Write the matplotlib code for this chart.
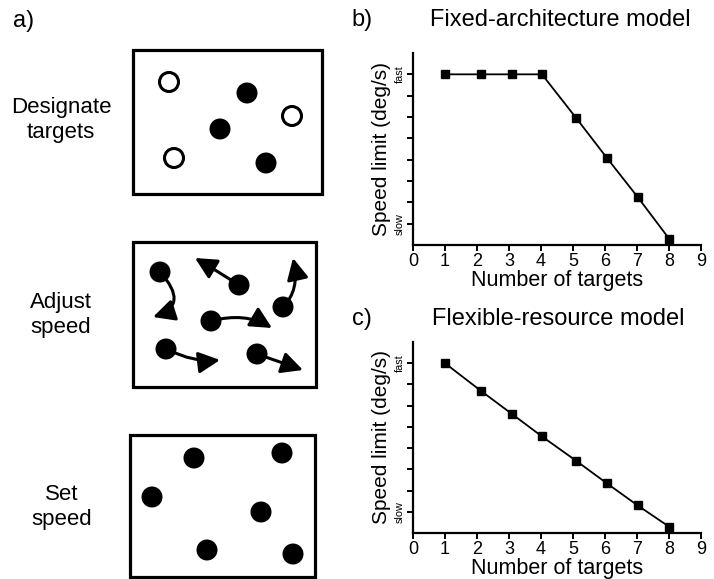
import matplotlib
matplotlib.use("Agg")
import matplotlib.pyplot as plt
from matplotlib.patches import Rectangle, Circle, FancyArrowPatch
from matplotlib.path import Path

plt.rcParams['font.family'] = ['Liberation Sans', 'DejaVu Sans']

# ---- data for panels b and c ----
n_targets_b = [1, 2.12, 3.1, 4.03, 5.1, 6.05, 7.02, 8]
speed_b = [8, 8, 8, 8, 5.95, 4.1, 2.25, 0.3]
n_targets_c = [1, 2.12, 3.1, 4.03, 5.1, 6.05, 7.02, 8]
speed_c = [8, 6.7, 5.6, 4.55, 3.4, 2.35, 1.3, 0.3]
x_ticks = [0, 1, 2, 3, 4, 5, 6, 7, 8, 9]
y_ticks = [1, 2, 3, 4, 5, 6, 7, 8]
y_tick_labels = ['slow', '', '', '', '', '', '', 'fast']

# ---- schematic layout for panel a (pixel units) ----
boxes = [(133, 50, 189, 144), (133, 242, 183, 145), (130, 435, 185, 142)]
box_labels = ['Designate\ntargets', 'Adjust\nspeed', 'Set\nspeed']
label_pos = [(61, 120), (61, 315), (62, 507)]
open_circles = [(169, 82), (292, 116), (174, 158)]
filled1 = [(247, 93), (220, 129), (266, 163)]
filled2 = [(160, 272), (239, 285), (283, 307), (211, 321), (166, 349), (257, 354)]
arrow_ctrl = [(190, 305), (217, 271), (300, 290), (245, 312), (195, 363), (280, 362)]
arrow_tip = [(153, 317), (195, 258), (293, 258), (272, 328), (220, 360), (303, 370)]
filled3 = [(194, 458), (282, 453), (152, 497), (261, 512), (207, 550), (293, 554)]
radius = 10.5

W, H = 714, 579
fig = plt.figure(figsize=(W / 100, H / 100), dpi=100)

# panel a
axa = fig.add_axes([0, 0, 1, 1])
axa.set_xlim(0, W)
axa.set_ylim(H, 0)
axa.axis('off')
axa.text(24, 21, 'a)', fontsize=17, ha='center', va='center')
for (x, y, w, h) in boxes:
    axa.add_patch(Rectangle((x, y), w, h, fill=False, lw=2.3, ec='black'))
for (t, (x, y)) in zip(box_labels, label_pos):
    axa.text(x, y, t, fontsize=16, ha='center', va='center', linespacing=1.2)
for (x, y) in open_circles:
    axa.add_patch(Circle((x, y), radius - 1, fill=False, lw=2.2, ec='black'))
for (x, y) in filled1 + filled2 + filled3:
    axa.add_patch(Circle((x, y), radius, fc='black', ec='none'))
for a, c, t in zip(filled2, arrow_ctrl, arrow_tip):
    p = Path([a, c, t], [Path.MOVETO, Path.CURVE3, Path.CURVE3])
    arr = FancyArrowPatch(path=p, arrowstyle='-|>,head_length=13,head_width=6.5',
                          mutation_scale=1, lw=2.2, color='black',
                          shrinkA=0, shrinkB=0, transform=axa.transData)
    axa.add_patch(arr)


def style_axes(ax, xs, ys):
    ax.plot(xs, ys, color='black', lw=1.3, marker='s', ms=6, mfc='black', mec='black')
    ax.set_xlim(0, 9)
    ax.set_ylim(0, 9)
    for s in ['top', 'right']:
        ax.spines[s].set_visible(False)
    for s in ['left', 'bottom']:
        ax.spines[s].set_linewidth(1.6)
    ax.set_xticks(x_ticks)
    ax.set_xticklabels([str(v) for v in x_ticks], fontsize=13)
    ax.set_yticks(y_ticks)
    ax.set_yticklabels(y_tick_labels, fontsize=7.8, rotation=90, va='center')
    ax.tick_params(axis='both', width=1.4, length=4, pad=2)
    ax.set_xlabel('Number of targets', fontsize=15.5, labelpad=0)
    ax.set_ylabel('Speed limit (deg/s)', fontsize=15, labelpad=3)


axb = fig.add_axes([413 / W, 1 - 245 / H, 288 / W, 192 / H])
style_axes(axb, n_targets_b, speed_b)
fig.text(362 / W, 1 - 20 / H, 'b)', fontsize=17, ha='center', va='center')
fig.text(560 / W, 1 - 20 / H, 'Fixed-architecture model', fontsize=17, ha='center', va='center')

axc = fig.add_axes([413 / W, 1 - 533 / H, 288 / W, 191 / H])
style_axes(axc, n_targets_c, speed_c)
fig.text(362 / W, 1 - 319 / H, 'c)', fontsize=17, ha='center', va='center')
fig.text(558 / W, 1 - 319 / H, 'Flexible-resource model', fontsize=17, ha='center', va='center')

fig.savefig('out.png', dpi=100)
